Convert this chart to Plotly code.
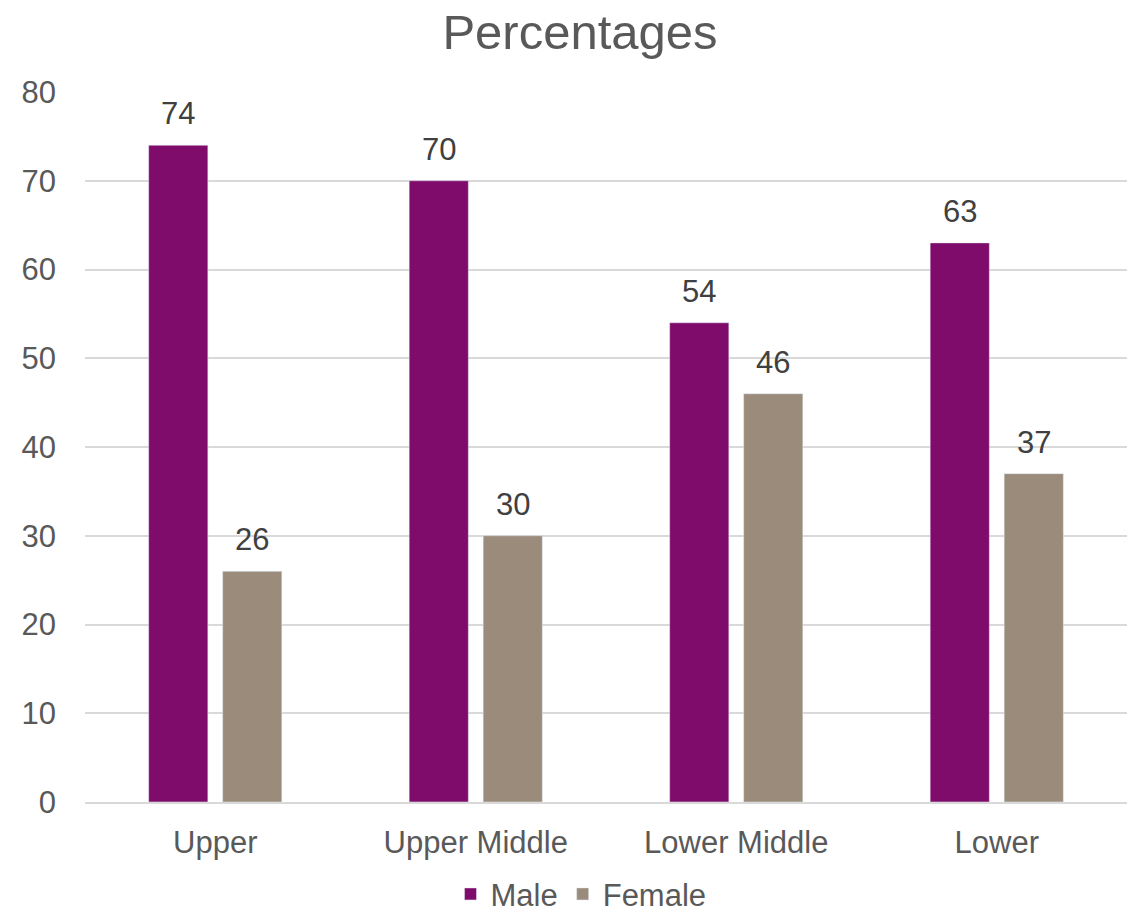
import plotly.graph_objects as go

categories = ["Upper", "Upper Middle", "Lower Middle", "Lower"]
male = [74, 70, 54, 63]
female = [26, 30, 46, 37]
y_ticks = [0, 10, 20, 30, 40, 50, 60, 70, 80]

MALE_C = "#7F0B6B"
FEMALE_C = "#9B8B7B"
FONT = "Liberation Sans, Arial, sans-serif"
BARGAP = 0.432
GROUPGAP = 0.2
OFF = (1 - BARGAP) / 4

fig = go.Figure()
fig.add_trace(go.Bar(name="Male", x=categories, y=male, marker_color=MALE_C))
fig.add_trace(go.Bar(name="Female", x=categories, y=female, marker_color=FEMALE_C))

for i, (m, f) in enumerate(zip(male, female)):
    for val, dx in ((m, -OFF), (f, OFF)):
        fig.add_annotation(x=i + dx, y=val, text=str(val), showarrow=False,
                           yanchor="bottom", yshift=12,
                           font=dict(size=31, color="#404040", family=FONT))

fig.update_layout(
    width=1135, height=913,
    margin=dict(l=85, r=8, t=92, b=111, autoexpand=False),
    paper_bgcolor="white", plot_bgcolor="white",
    barmode="group", bargap=BARGAP, bargroupgap=GROUPGAP,
    font=dict(family=FONT, color="#595959"),
    title=dict(text="Percentages", x=580 / 1135, xanchor="center", y=1 - 32 / 913,
               yanchor="middle", yref="container", xref="container",
               font=dict(size=49, color="#595959", family=FONT)),
    legend=dict(orientation="h", x=0.476, xanchor="center", y=-0.13, yanchor="middle",
                font=dict(size=31, color="#595959", family=FONT),
                itemwidth=30, traceorder="normal"),
    showlegend=True,
)
fig.update_yaxes(range=[0, 80], tickvals=y_ticks, showgrid=True, gridcolor="#D9D9D9",
                 gridwidth=1.5, zeroline=False, showline=False,
                 tickfont=dict(size=31, color="#595959", family=FONT), ticks="",
                 ticklabelstandoff=28, automargin=False)
fig.update_xaxes(showline=True, linecolor="#D9D9D9", linewidth=1.5, ticks="",
                 tickfont=dict(size=31, color="#595959", family=FONT),
                 ticklabelstandoff=12, automargin=False)

fig.write_html("out.html")
